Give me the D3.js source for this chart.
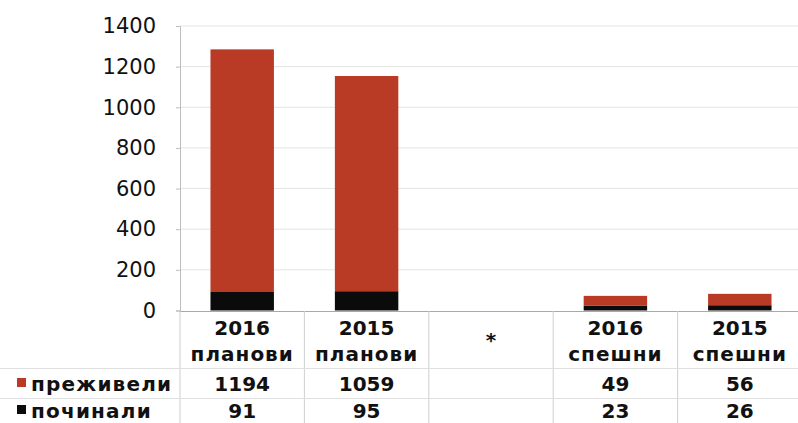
<!DOCTYPE html>
<html><head><meta charset="utf-8">
<script src="https://cdn.jsdelivr.net/npm/d3@7"></script>
<style>body{margin:0;background:#fff}svg{display:block}</style>
</head><body>
<svg id="c" width="798" height="423"></svg>
<script>
const categories = [["2016","планови"],["2015","планови"],["*",""],["2016","спешни"],["2015","спешни"]];
const seriesNames = ["преживели","починали"];
const survived = [1194, 1059, null, 49, 56];
const died = [91, 95, null, 23, 26];
const yTicks = [0,200,400,600,800,1000,1200,1400];
const colors = {"преживели":"#b93b25","починали":"#0b0b0b"};

const svg = d3.select("#c");
const x = d3.scaleBand().domain(d3.range(categories.length)).range([180, 802]).paddingInner(0).paddingOuter(0);
const y = d3.scaleLinear().domain([0,1400]).range([310.5, 26]);
const font = "DejaVu Sans, Verdana, sans-serif";

// gridlines
svg.append("g").selectAll("line").data(yTicks.slice(1)).join("line")
  .attr("x1",180).attr("x2",798).attr("y1",d=>y(d)).attr("y2",d=>y(d))
  .attr("stroke","#e4e4e4").attr("stroke-width",1);

// y axis
const ya = d3.axisLeft(y).tickValues(yTicks).tickFormat(d3.format("d")).tickSize(4).tickPadding(20);
const yg = svg.append("g").attr("transform","translate(180,0)").call(ya);
yg.select(".domain").attr("stroke","#bdbdbd");
yg.selectAll(".tick line").attr("stroke","#bdbdbd");
yg.selectAll("text").attr("font-family",font).attr("font-size",21).attr("fill","#111");

// stacked bars
const rows = categories.map((c,i)=>({i, "преживели":survived[i]||0, "починали":died[i]||0}));
const stack = d3.stack().keys(["починали","преживели"])(rows);
const bw = x.bandwidth()*0.51;
svg.append("g").selectAll("g").data(stack).join("g").attr("fill",d=>colors[d.key])
  .selectAll("rect").data(d=>d.filter(p=>p[1]>p[0])).join("rect")
  .attr("x",d=>x(d.data.i)+(x.bandwidth()-bw)/2).attr("width",bw)
  .attr("y",d=>y(d[1])).attr("height",d=>y(d[0])-y(d[1]));

// x axis baseline
svg.append("line").attr("x1",180).attr("x2",798).attr("y1",311.5).attr("y2",311.5).attr("stroke","#a9a9a9");

// table grid
const tb = svg.append("g");
const vlines = [0,1,2,3,4].map(i=>x(i));
tb.selectAll("line.v").data(vlines).join("line").attr("class","v")
  .attr("x1",d=>d).attr("x2",d=>d).attr("y1",311).attr("y2",423).attr("stroke","#cfcfcf");
tb.selectAll("line.h").data([368.5, 398.5]).join("line").attr("class","h")
  .attr("x1",0).attr("x2",798).attr("y1",d=>d).attr("y2",d=>d).attr("stroke","#e0e0e0");

// category labels
const cl = tb.selectAll("text.cat").data(categories).join("text").attr("class","cat")
  .attr("font-family",font).attr("font-weight","bold").attr("font-size",20).attr("fill","#111")
  .attr("text-anchor","middle");
cl.each(function(d,i){
  const t = d3.select(this);
  const cx = x(i)+x.bandwidth()/2;
  if(d[1]===""){
    t.append("tspan").attr("x",cx).attr("y",347).text(d[0]);
  } else {
    t.append("tspan").attr("x",cx).attr("y",335).text(d[0]);
    t.append("tspan").attr("x",cx).attr("y",361).attr("letter-spacing",1).text(d[1]);
  }
});

// data rows
const series = [survived, died];
const rowY = [391, 418];
series.forEach((vals,r)=>{
  tb.append("rect").attr("x",17).attr("y",rowY[r]-13).attr("width",9).attr("height",9).attr("fill",colors[seriesNames[r]]);
  tb.append("text").attr("x",31).attr("y",rowY[r]).attr("font-family",font).attr("font-weight","bold")
    .attr("font-size",20).attr("letter-spacing",1.2).attr("fill","#111").text(seriesNames[r]);
  const cells = vals.map((v,i)=>({v,i})).filter(d=>d.v!=null);
  tb.selectAll(null).data(cells).join("text")
    .attr("x",d=>x(d.i)+x.bandwidth()/2).attr("y",rowY[r])
    .attr("text-anchor","middle").attr("font-family",font).attr("font-weight","bold")
    .attr("font-size",20).attr("fill","#111").text(d=>d.v);
});
</script>
</body></html>
